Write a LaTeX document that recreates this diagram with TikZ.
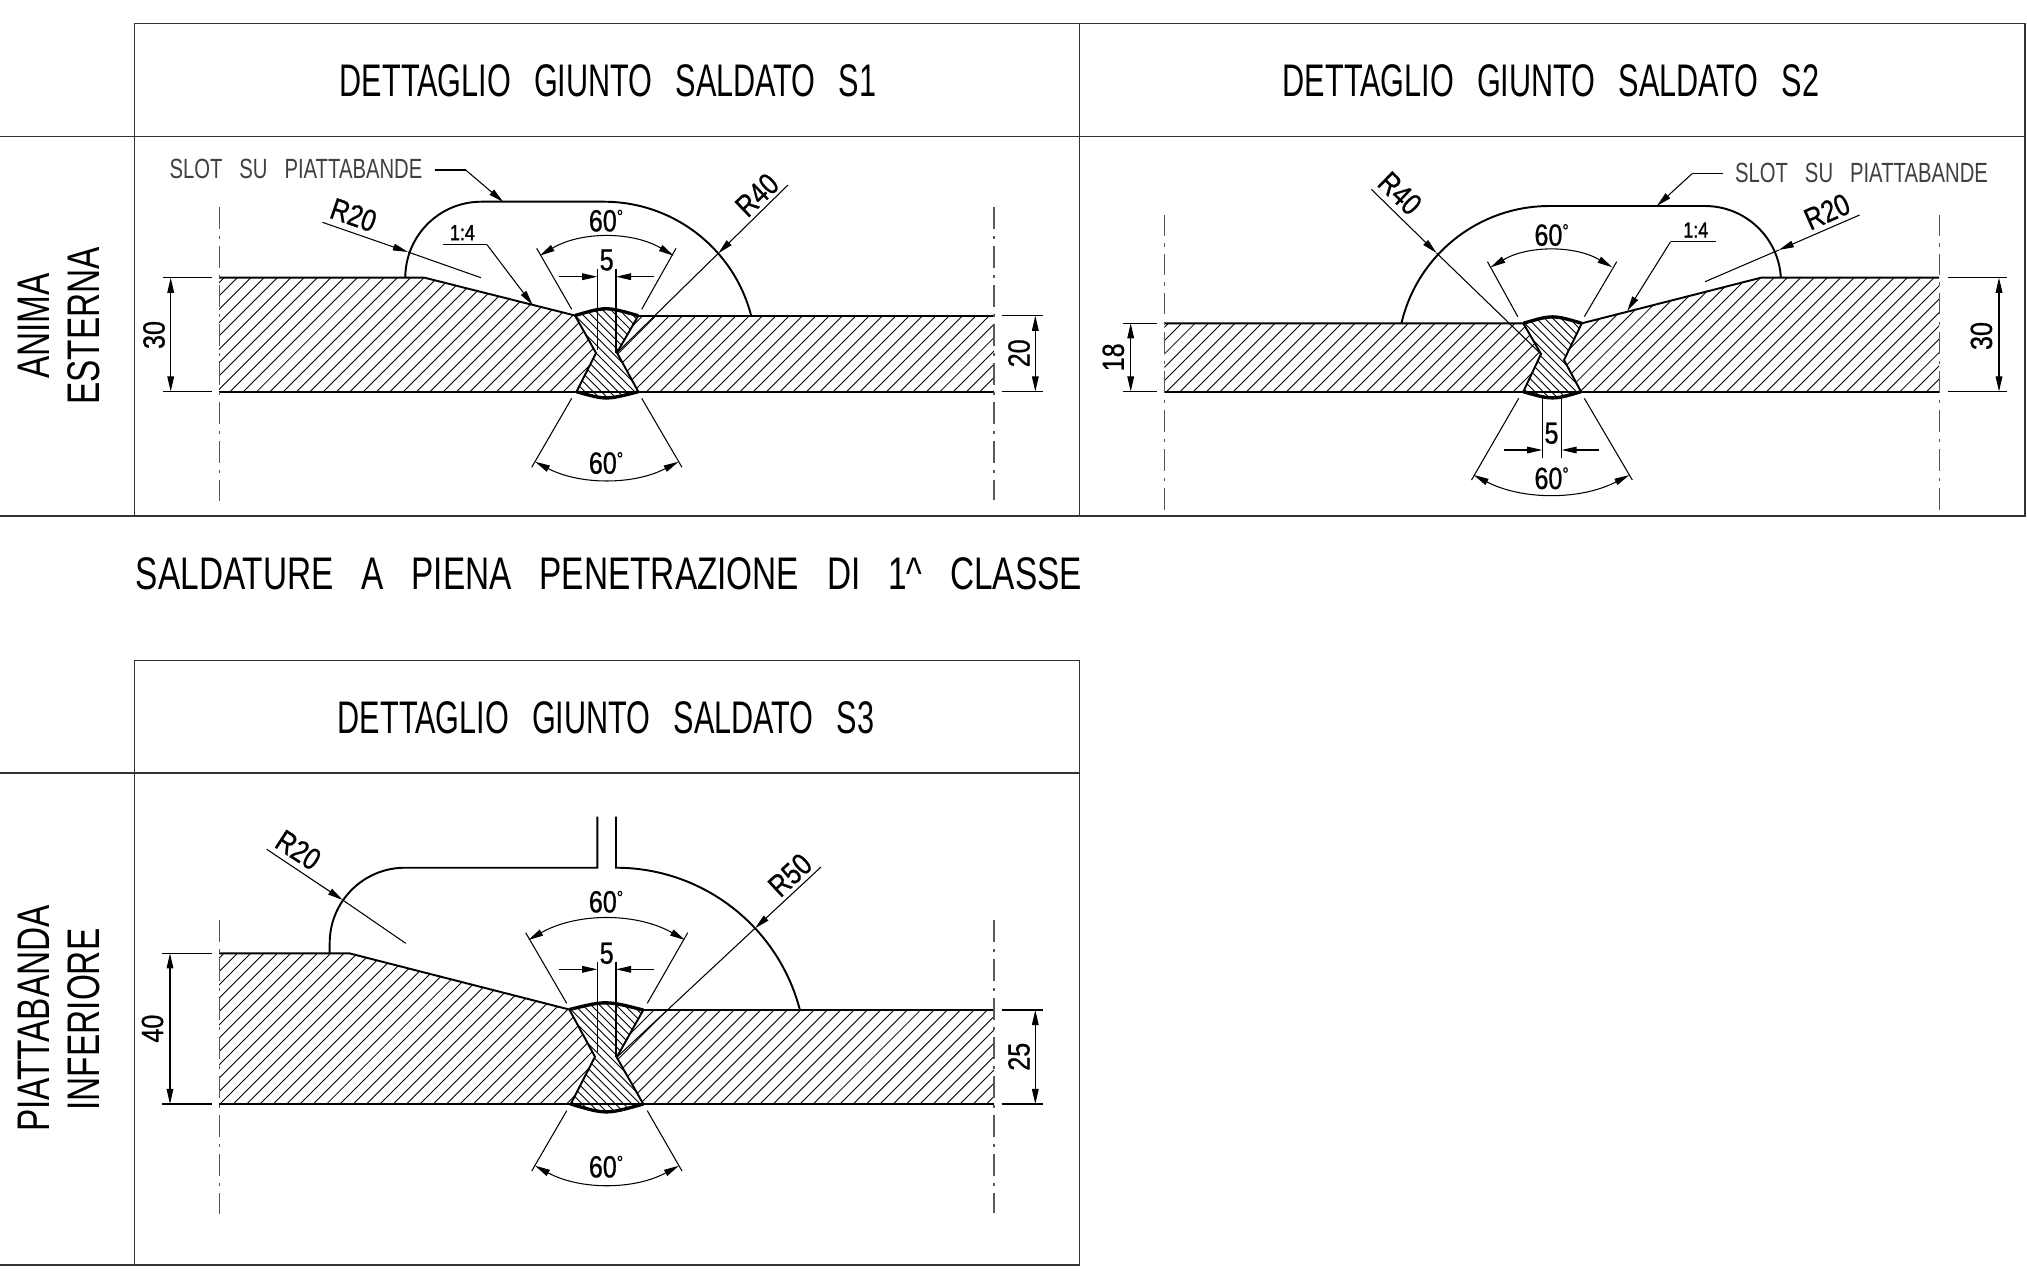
\documentclass[tikz,border=0pt]{standalone}
\usepackage{fontspec}
\usetikzlibrary{arrows.meta}
\newfontfamily\cadfont[FakeStretch=0.67,WordSpace=2.7]{Liberation Sans}
\newfontfamily\widefont[FakeStretch=0.73,WordSpace=3]{Liberation Sans}
\newfontfamily\dimfont[FakeStretch=0.82,FakeBold=0.8]{Liberation Sans}
\newfontfamily\slopefont[FakeStretch=0.82,FakeBold=1.6]{Liberation Sans}
\newcommand{\degmark}{\raisebox{0.5ex}{\fontsize{5.5}{6}\selectfont °}}
\tikzset{
  framebox/.style={line width=0.4pt,black!80},
  outline/.style={line width=0.55pt,black},
  weldcap/.style={line width=0.95pt,black},
  thinline/.style={line width=0.3pt,black},
  hatchline/.style={line width=0.25pt,black},
  axisline/.style={line width=0.4pt,black!65,dash pattern=on 6.2pt off 2pt on 0.9pt off 2pt},
  dimline/.style={thinline,{Triangle[length=4.3pt,width=1.9pt]}-{Triangle[length=4.3pt,width=1.9pt]}},
  dimout/.style={thinline,-{Triangle[length=4.3pt,width=1.9pt]}},
  every node/.style={inner sep=0pt},
  titletext/.style={font=\cadfont\fontsize{13}{15}\selectfont},
  notetext/.style={font=\widefont\fontsize{13}{15}\selectfont},
  sidetext/.style={font=\widefont\fontsize{13}{15}\selectfont,rotate=90},
  slottext/.style={font=\widefont\fontsize{7.9}{9}\selectfont,black!75},
  dimtext/.style={font=\dimfont\fontsize{8.7}{10}\selectfont},
  slopetext/.style={font=\slopefont\fontsize{6.2}{7}\selectfont},
}
\begin{document}
\begin{tikzpicture}[x=0.01cm,y=0.01cm]
\useasboundingbox (0,0) rectangle (2027,-1272);
% tables
\draw [framebox] (134.3,-23.7) -- (2025,-23.7) -- (2025,-516) -- (0,-516);
\draw [framebox] (0,-136.7) -- (2025,-136.7);
\draw [framebox] (134.3,-23.7) -- (134.3,-516);
\draw [framebox] (1079.4,-23.7) -- (1079.4,-516);
\draw [framebox] (134.3,-660.5) -- (1079.4,-660.5) -- (1079.4,-1265) -- (0,-1265);
\draw [framebox] (0,-773) -- (1079.4,-773);
\draw [framebox] (134.3,-660.5) -- (134.3,-1265);
\node [titletext] (titleSone) at (608,-80.5) {DETTAGLIO GIUNTO SALDATO S1};
\node [titletext] (titleStwo) at (1551,-80.5) {DETTAGLIO GIUNTO SALDATO S2};
\node [titletext] (titleSthree) at (606,-717.5) {DETTAGLIO GIUNTO SALDATO S3};
\node [notetext] (noteClass) at (609,-574) {SALDATURE A PIENA PENETRAZIONE DI 1\textasciicircum{} CLASSE};
\node [sidetext] (sideAnima) at (33.3,-326) {ANIMA};
\node [sidetext] (sideEsterna) at (83.3,-326) {ESTERNA};
\node [sidetext] (sidePiatta) at (33.3,-1018.5) {PIATTABANDA};
\node [sidetext] (sideInf) at (83.3,-1019.5) {INFERIORE};
% S1 hatching
\begin{scope}
\clip (219,-277.7) -- (424.5,-277.7) -- (575,-315.5) -- (596,-353) -- (576.5,-391.7) -- (219,-391.7) -- cycle;
\foreach \i in {96.7,110.03,...,610} \draw [hatchline] (\i,-391.7) -- ++(130,130);
\end{scope}
\begin{scope}
\clip (638.3,-315.7) -- (994,-315.7) -- (994,-391.7) -- (638.3,-391.7) -- (617,-352.7) -- cycle;
\foreach \i in {540,553.33,...,1000} \draw [hatchline] (\i,-391.7) -- ++(90,90);
\end{scope}
\begin{scope}
\clip (575,-315.5) .. controls (606,-306.5) .. (638.3,-315.7) -- (617,-352.7) -- (638.3,-391.7) .. controls (606,-400) .. (576.5,-391.7) -- (596,-353) -- cycle;
\foreach \i in {560,568.3,...,760} \draw [hatchline] (\i,-400) -- ++(-110,110);
\end{scope}
% S1 outline
\draw [outline] (219,-277.7) -- (424.5,-277.7) -- (575,-315.5) -- (596,-353) -- (576.5,-391.7);
\draw [outline] (638.3,-315.7) -- (617,-352.7) -- (638.3,-391.7);
\draw [outline] (638.3,-315.7) -- (994,-315.7);
\draw [outline] (219,-391.7) -- (994,-391.7);
\draw [weldcap] (575,-315.5) .. controls (606,-306.5) .. (638.3,-315.7);
\draw [weldcap] (576.5,-391.7) .. controls (606,-400) .. (638.3,-391.7);
\draw [outline] (405.3,-277.7) arc (180:90:76) -- (604,-201.7) arc (90:14.6:152);
\draw [axisline] (219.3,-206.7) -- (219.3,-500.7);
\draw [axisline] (994,-206.7) -- (994,-500);
% S1 dimensions
\draw [thinline] (163.3,-277.7) -- (212,-277.7);
\draw [thinline] (163.3,-391.5) -- (212,-391.5);
\draw [dimline] (170.7,-277.7) -- (170.7,-391.5);
\node [dimtext,rotate=90] (dimSoneA) at (154,-335) {30};
\draw [thinline] (1001.7,-315.7) -- (1042.7,-315.7);
\draw [thinline] (1001.7,-391.5) -- (1042.7,-391.5);
\draw [dimline] (1035.3,-315.7) -- (1035.3,-391.5);
\node [dimtext,rotate=90] (dimSoneB) at (1019,-353.3) {20};
\draw [thinline] (571.7,-309.3) -- (536.7,-248.3);
\draw [thinline] (641.7,-309.3) -- (676,-248.3);
\draw [dimline] (539.7,-255.7) arc (120.7:59.3:131.2);
\node [dimtext] (angSoneA) at (606,-220.7) {60\degmark};
\draw [thinline] (571.7,-398.3) -- (531.7,-467.3);
\draw [thinline] (641.7,-398.3) -- (682,-467.3);
\draw [dimline] (535,-461.7) arc (242.5:297.5:155.5);
\node [dimtext] (angSoneB) at (606,-463) {60\degmark};
\draw [thinline] (597.3,-269.3) -- (597.3,-350);
\draw [thinline] (616,-269.3) -- (616,-352.7);
\draw [dimout] (559.3,-276.7) -- (597.3,-276.7);
\draw [dimout] (654.3,-276.7) -- (616,-276.7);
\node [dimtext] (gapSone) at (606.7,-260) {5};
% S1 leaders
\draw [dimout] (322.4,-222.3) -- (408,-252);
\draw [thinline] (408,-252) -- (481,-277.7);
\node [dimtext,rotate=-19] (radSoneA) at (353.5,-215) {R20};
\draw [dimout] (788,-185) -- (718.3,-253.3);
\draw [thinline] (718.3,-253.3) -- (617,-352.7);
\node [dimtext,rotate=44] (radSoneB) at (757,-195) {R40};
\draw [thinline] (442.9,-244.7) -- (487,-244.7);
\draw [dimout] (487,-244.7) -- (532.7,-305);
\node [slopetext] (slopeSone) at (462.4,-232.7) {1:4};
\node [slottext] (slotSone) at (296,-169) {SLOT SU PIATTABANDE};
\draw [thinline] (434.7,-170) -- (465.7,-170);
\draw [dimout] (465.7,-170) -- (503.3,-202);
% S2 hatching
\begin{scope}
\clip (1164.3,-323.3) -- (1523.3,-323.3) -- (1541,-354) -- (1523.3,-391.7) -- (1164.3,-391.7) -- cycle;
\foreach \i in {1060,1073.33,...,1550} \draw [hatchline] (\i,-391.7) -- ++(90,90);
\end{scope}
\begin{scope}
\clip (1581.8,-323.3) -- (1761,-277.7) -- (1939,-277.7) -- (1939,-391.7) -- (1581,-391.7) -- (1564,-360) -- cycle;
\foreach \i in {1460,1473.33,...,1945} \draw [hatchline] (\i,-391.7) -- ++(130,130);
\end{scope}
\begin{scope}
\clip (1523.3,-323.3) .. controls (1552.5,-314.7) .. (1581.8,-323.3) -- (1564,-360) -- (1581,-391.7) .. controls (1552.5,-400) .. (1523.3,-391.7) -- (1541,-354) -- cycle;
\foreach \i in {1510,1518.3,...,1710} \draw [hatchline] (\i,-400) -- ++(-110,110);
\end{scope}
% S2 outline
\draw [outline] (1164.3,-323.3) -- (1523.3,-323.3) -- (1541,-354) -- (1523.3,-391.7);
\draw [outline] (1939,-277.7) -- (1761,-277.7) -- (1581.8,-323.3) -- (1564,-360) -- (1581,-391.7);
\draw [outline] (1164.3,-391.7) -- (1939,-391.7);
\draw [weldcap] (1523.3,-323.3) .. controls (1552.5,-314.7) .. (1581.8,-323.3);
\draw [weldcap] (1523.3,-391.7) .. controls (1552.5,-400) .. (1581,-391.7);
\draw [outline] (1401.4,-323.3) arc (166.8:90:152) -- (1705,-206) arc (90:3.2:76);
\draw [axisline] (1164.3,-214.6) -- (1164.3,-510);
\draw [axisline] (1939.5,-214.6) -- (1939.5,-514);
% S2 dimensions
\draw [thinline] (1122.7,-323.3) -- (1156.7,-323.3);
\draw [thinline] (1122.7,-391.5) -- (1156.7,-391.5);
\draw [dimline] (1130.7,-323.3) -- (1130.7,-391.5);
\node [dimtext,rotate=90] (dimStwoA) at (1113.3,-357.3) {18};
\draw [thinline] (1947.5,-277.7) -- (2006.8,-277.7);
\draw [thinline] (1947.5,-391.5) -- (2006.8,-391.5);
\draw [dimline] (1999,-277.7) -- (1999,-391.5);
\node [dimtext,rotate=90] (dimStwoB) at (1981.4,-336) {30};
\draw [thinline] (1517.8,-316.7) -- (1487.5,-261.7);
\draw [thinline] (1584.3,-316.7) -- (1616.7,-261.7);
\draw [dimline] (1490.5,-267.3) arc (120.4:59.6:120.4);
\node [dimtext] (angStwoA) at (1551.6,-235) {60\degmark};
\draw [thinline] (1518.7,-398.3) -- (1471.5,-480);
\draw [thinline] (1584.3,-398.3) -- (1632.3,-480);
\draw [dimline] (1473.6,-475) arc (242.6:297.4:169.2);
\node [dimtext] (angStwoB) at (1551.6,-478.3) {60\degmark};
\draw [thinline] (1542.2,-395.7) -- (1542.2,-458.3);
\draw [thinline] (1561.6,-395.7) -- (1561.6,-458.3);
\draw [dimout] (1504,-450) -- (1542.2,-450);
\draw [dimout] (1598.6,-450) -- (1561.6,-450);
\node [dimtext] (gapStwo) at (1551.5,-433.3) {5};
% S2 leaders
\draw [dimout] (1371.3,-189.3) -- (1436.5,-253);
\draw [thinline] (1436.5,-253) -- (1541,-354);
\node [dimtext,rotate=-44] (radStwoA) at (1400,-193.3) {R40};
\draw [dimout] (1859.6,-215) -- (1778.8,-250);
\draw [thinline] (1778.8,-250) -- (1705,-281.7);
\node [dimtext,rotate=24] (radStwoB) at (1827,-211.7) {R20};
\draw [thinline] (1715.6,-241.7) -- (1670.6,-241.7);
\draw [dimout] (1670.6,-241.7) -- (1627.2,-311);
\node [slopetext] (slopeStwo) at (1695.8,-230) {1:4};
\node [slottext] (slotStwo) at (1861.5,-173) {SLOT SU PIATTABANDE};
\draw [thinline] (1723.2,-173.3) -- (1692.5,-173.3);
\draw [dimout] (1692.5,-173.3) -- (1656.7,-206);
% S3 hatching
\begin{scope}
\clip (219,-953.3) -- (349.3,-953.3) -- (569.3,-1009.5) -- (595,-1056.7) -- (570.7,-1104) -- (219,-1104) -- cycle;
\foreach \i in {60,73.33,...,610} \draw [hatchline] (\i,-1104) -- ++(170,170);
\end{scope}
\begin{scope}
\clip (643.3,-1010) -- (994,-1010) -- (994,-1104) -- (643.3,-1104) -- (616.7,-1057.3) -- cycle;
\foreach \i in {520,533.33,...,1000} \draw [hatchline] (\i,-1104) -- ++(110,110);
\end{scope}
\begin{scope}
\clip (569.3,-1009.5) .. controls (606,-1000.5) .. (643.3,-1010) -- (616.7,-1057.3) -- (643.3,-1104) .. controls (606,-1114.5) .. (570.7,-1104) -- (595,-1056.7) -- cycle;
\foreach \i in {560,568.3,...,790} \draw [hatchline] (\i,-1115) -- ++(-130,130);
\end{scope}
% S3 outline
\draw [outline] (219,-953.3) -- (349.3,-953.3) -- (569.3,-1009.5) -- (595,-1056.7) -- (570.7,-1104);
\draw [outline] (994,-1010) -- (643.3,-1010) -- (616.7,-1057.3) -- (643.3,-1104);
\draw [outline] (219,-1104) -- (994,-1104);
\draw [weldcap] (569.3,-1009.5) .. controls (606,-1000.5) .. (643.3,-1010);
\draw [weldcap] (570.7,-1104) .. controls (606,-1114.5) .. (643.3,-1104);
\draw [outline] (329.7,-953.3) -- (329.7,-943) arc (180:90:75.3) -- (597.3,-867.7) -- (597.3,-816.7);
\draw [outline] (616,-816.7) -- (616,-867.7) arc (90:14.5:190);
\draw [axisline] (219.3,-920) -- (219.3,-1214);
\draw [axisline] (994,-920) -- (994,-1213);
% S3 dimensions
\draw [thinline] (162,-953.3) -- (212,-953.3);
\draw [thinline] (162,-1104) -- (212,-1104);
\draw [dimline] (170,-953.3) -- (170,-1104);
\node [dimtext,rotate=90] (dimSthreeA) at (152.5,-1028.6) {40};
\draw [thinline] (1001.7,-1010) -- (1042.7,-1010);
\draw [thinline] (1001.7,-1104) -- (1042.7,-1104);
\draw [dimline] (1035.3,-1010) -- (1035.3,-1104);
\node [dimtext,rotate=90] (dimSthreeB) at (1019,-1056.7) {25};
\draw [thinline] (566.7,-1003.3) -- (525.7,-932.7);
\draw [thinline] (647.3,-1003.3) -- (687.7,-932.7);
\draw [dimline] (528.3,-940) arc (119.6:60.4:158.6);
\node [dimtext] (angSthreeA) at (606,-901.7) {60\degmark};
\draw [thinline] (566.7,-1110.7) -- (531.7,-1171);
\draw [thinline] (647.3,-1110.7) -- (682,-1171);
\draw [dimline] (535,-1165.7) arc (241.5:298.5:150.8);
\node [dimtext] (angSthreeB) at (606,-1166.7) {60\degmark};
\draw [thinline] (597.3,-961.7) -- (597.3,-1051.7);
\draw [thinline] (616,-961.7) -- (616,-1057);
\draw [dimout] (559.3,-969.3) -- (597.3,-969.3);
\draw [dimout] (654,-969.3) -- (616,-969.3);
\node [dimtext] (gapSthree) at (606.7,-953.3) {5};
% S3 leaders
\draw [dimout] (266.7,-849.3) -- (342.7,-900);
\draw [thinline] (342.7,-900) -- (405.7,-943.3);
\node [dimtext,rotate=-33] (radSthreeA) at (298.3,-850) {R20};
\draw [dimout] (821,-867) -- (755,-928.3);
\draw [thinline] (755,-928.3) -- (616.7,-1057.3);
\node [dimtext,rotate=43] (radSthreeB) at (790,-875) {R50};
\end{tikzpicture}
\end{document}
